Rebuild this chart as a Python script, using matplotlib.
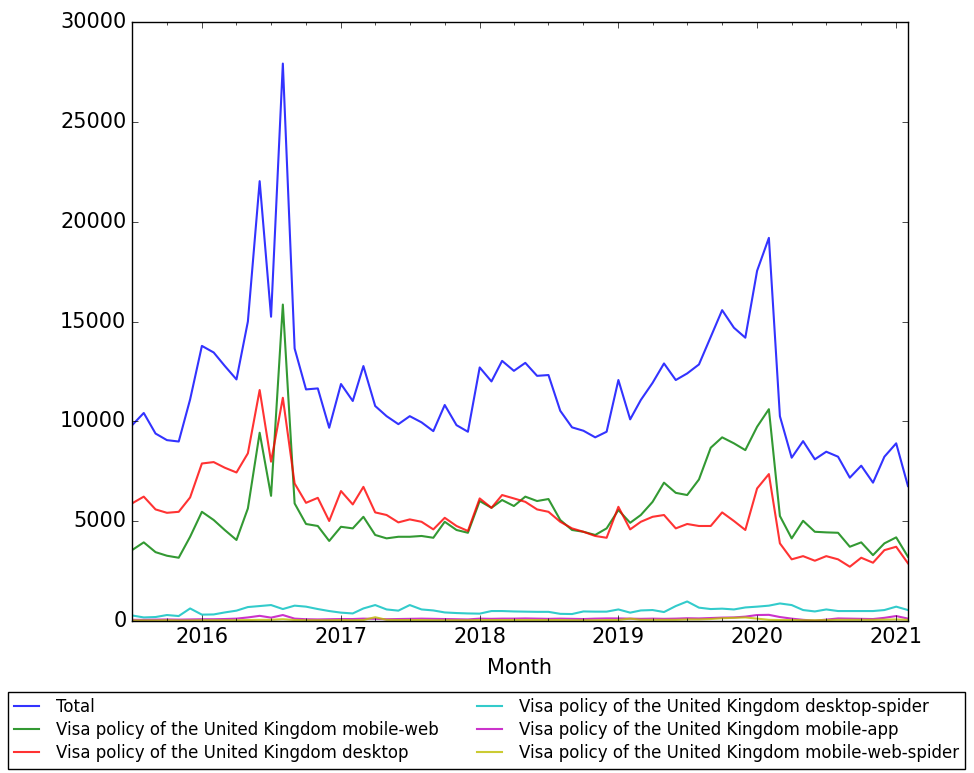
import numpy as np
import pandas as pd
import matplotlib
matplotlib.use("Agg")
import matplotlib.pyplot as plt
import matplotlib.dates as mdates

plt.style.use("classic")
plt.rcParams["font.family"] = ["DejaVu Sans"]

months = pd.date_range("2015-07-01", "2021-02-01", freq="MS")

total = [9800, 10420, 9390, 9060, 8990, 11100,
         13780, 13450, 12780, 12100, 15000, 22030, 15240, 27920, 13650, 11600, 11650, 9680,
         11870, 11020, 12770, 10770, 10260, 9860, 10260, 9950, 9510, 10820, 9810, 9480,
         12700, 12000, 13030, 12530, 12930, 12280, 12320, 10530, 9700, 9530, 9200, 9480,
         12070, 10100, 11070, 11930, 12900, 12070, 12400, 12850, 14230, 15570, 14690, 14190,
         17540, 19190, 10260, 8180, 9010, 8100, 8480, 8230, 7180, 7780, 6930, 8230,
         8900, 6760]
mobile_web = [3550, 3940, 3450, 3270, 3170, 4220,
              5470, 5060, 4560, 4060, 5640, 9430, 6270, 15850, 5890, 4860, 4760, 4010,
              4720, 4640, 5220, 4310, 4140, 4220, 4220, 4260, 4170, 4970, 4560, 4420,
              6010, 5670, 6060, 5760, 6230, 6010, 6110, 5060, 4560, 4470, 4310, 4640,
              5560, 4920, 5310, 5970, 6930, 6420, 6310, 7090, 8680, 9200, 8900, 8560,
              9730, 10610, 5260, 4140, 5020, 4470, 4440, 4420, 3720, 3940, 3300, 3890,
              4190, 3220]
desktop = [5890, 6230, 5590, 5420, 5470, 6190,
           7890, 7960, 7680, 7440, 8400, 11570, 7980, 11180, 6890, 5920, 6170, 5010,
           6510, 5840, 6720, 5440, 5310, 4940, 5090, 4970, 4590, 5170, 4760, 4510,
           6140, 5670, 6310, 6140, 5970, 5590, 5470, 4970, 4640, 4470, 4260, 4170,
           5720, 4590, 4970, 5220, 5310, 4640, 4860, 4760, 4760, 5440, 5010, 4560,
           6640, 7360, 3890, 3090, 3250, 3020, 3250, 3090, 2720, 3170, 2920, 3550,
           3720, 2890]
desktop_spider = [280, 180, 200, 300, 250, 630,
                  320, 330, 430, 520, 700, 750, 800, 600, 770, 720, 600, 500,
                  420, 380, 630, 800, 580, 520, 800, 580, 530, 430, 400, 380,
                  370, 500, 500, 480, 470, 460, 460, 360, 350, 480, 470, 470,
                  580, 420, 530, 550, 450, 750, 980, 670, 600, 620, 580, 680,
                  720, 770, 880, 800, 550, 480, 580, 500, 500, 500, 500, 550,
                  720, 550]
mobile_app = [60, 60, 70, 80, 70, 80,
              90, 90, 100, 120, 180, 260, 170, 300, 120, 90, 80, 90,
              100, 100, 120, 110, 90, 100, 110, 120, 110, 100, 90, 80,
              120, 110, 120, 120, 130, 120, 110, 120, 110, 100, 120, 130,
              130, 120, 110, 120, 110, 120, 140, 130, 150, 170, 180, 220,
              300, 310, 200, 120, 60, 20, 70, 130, 120, 110, 100, 160,
              250, 120]
mobile_web_spider = [30, 30, 30, 40, 30, 30,
                     40, 40, 40, 40, 50, 60, 60, 90, 50, 40, 40, 40,
                     50, 40, 50, 190, 60, 50, 50, 50, 40, 40, 40, 40,
                     50, 50, 50, 50, 50, 50, 50, 50, 40, 40, 40, 50,
                     50, 120, 60, 60, 60, 60, 80, 80, 100, 140, 160, 180,
                     120, 60, 50, 50, 40, 40, 50, 60, 60, 60, 60, 70,
                     80, 60]

series = [
    ("Total", total, "b"),
    ("Visa policy of the United Kingdom mobile-web", mobile_web, "g"),
    ("Visa policy of the United Kingdom desktop", desktop, "r"),
    ("Visa policy of the United Kingdom desktop-spider", desktop_spider, "c"),
    ("Visa policy of the United Kingdom mobile-app", mobile_app, "m"),
    ("Visa policy of the United Kingdom mobile-web-spider", mobile_web_spider, "y"),
]

fig = plt.figure(figsize=(9.74, 7.73), dpi=100, facecolor="white")
ax = fig.add_axes([0.1355, 0.1966, 0.7967, 0.7749])

for label, vals, col in series:
    ax.plot(months, vals, color=col, lw=1.5, alpha=0.8, label=label)

ax.set_xlim(months[0], months[-1])
ax.set_ylim(0, 30000)
ax.set_yticks(np.arange(0, 30001, 5000))
ax.xaxis.set_major_locator(mdates.YearLocator())
ax.xaxis.set_major_formatter(mdates.DateFormatter("%Y"))
ax.xaxis.set_minor_locator(mdates.MonthLocator(bymonth=[1, 4, 7, 10]))
ax.tick_params(labelsize=15)
ax.set_xlabel("Month", fontsize=15, labelpad=8)

fig.legend(loc="lower center", bbox_to_anchor=(0.4995, 0.0), ncol=2,
           fontsize=12, fancybox=False, framealpha=1, numpoints=1,
           handlelength=1.5, handletextpad=1.0, borderaxespad=0.25,
           columnspacing=2.3, labelspacing=0.3)

fig.savefig("out.png", dpi=100, facecolor="white")
